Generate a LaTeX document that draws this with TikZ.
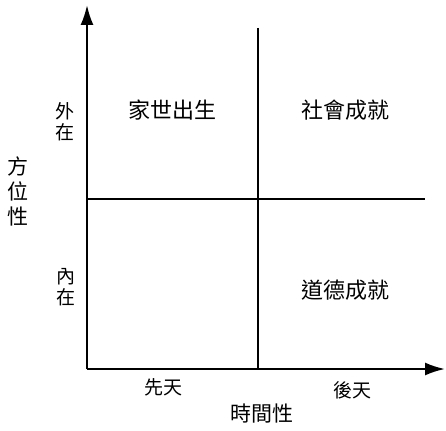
\documentclass[tikz,border=0pt]{standalone}
\usepackage{fontspec}
\newfontfamily\cjk{Noto Sans CJK TC}
\usetikzlibrary{arrows.meta}

\tikzset{
    axisline/.style={line width=2.2pt, -{Latex[length=20pt,width=13pt]}},
    divline/.style={line width=2.2pt},
    quadlabel/.style={font=\cjk\fontsize{22}{24}\selectfont},
    ticklabel/.style={font=\cjk\fontsize{19}{21}\selectfont, align=center},
    axislabel/.style={font=\cjk\fontsize{21}{25}\selectfont, align=center}
}

\begin{document}
\begin{tikzpicture}[x=1pt, y=-1pt]
    \useasboundingbox (0,0) rectangle (446,430);
    % axes
    \coordinate (O) at (87,369);
    \coordinate (ytop) at (87,5);
    \coordinate (xend) at (445,369);
    \draw[axisline] (O) -- (ytop);
    \draw[axisline] (O) -- (xend);
    % quadrant dividers
    \coordinate (vtop) at (258,28);
    \coordinate (vbot) at (258,369);
    \coordinate (hleft) at (87,199);
    \coordinate (hright) at (425,199);
    \draw[divline] (vtop) -- (vbot);
    \draw[divline] (hleft) -- (hright);
    % quadrant labels
    \node[quadlabel] (birth) at (172,110) {家世出生};
    \node[quadlabel] (social) at (345,110) {社會成就};
    \node[quadlabel] (moral) at (345,290) {道德成就};
    % vertical axis
    \node[ticklabel] (outer) at (65,122) {外\\在};
    \node[ticklabel] (inner) at (66,287) {內\\在};
    \node[axislabel] (place) at (18,191) {方\\位\\性};
    % horizontal axis
    \node[ticklabel] (innate) at (163,387) {先天};
    \node[ticklabel] (acquired) at (352,390) {後天};
    \node[axislabel] (time) at (262,414) {時間性};
\end{tikzpicture}
\end{document}
